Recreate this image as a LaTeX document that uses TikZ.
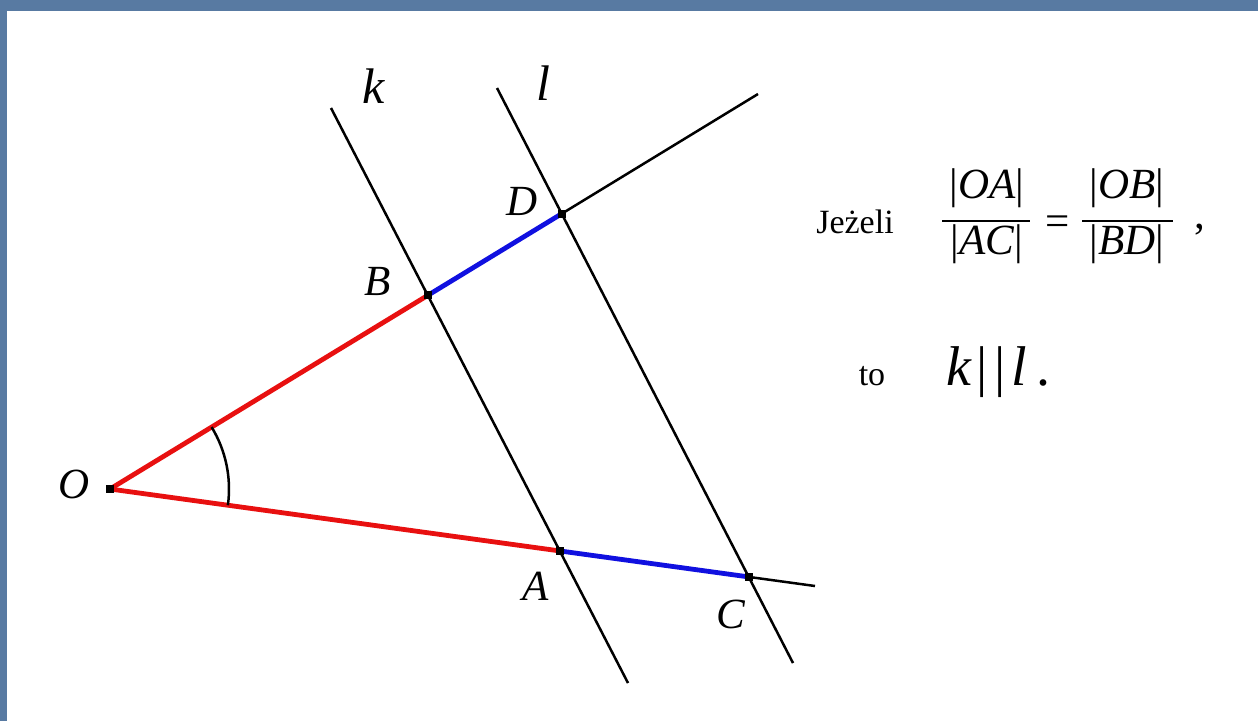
\documentclass[tikz,border=0pt]{standalone}
\usepackage{fontspec}
\setmainfont{Liberation Serif}
\usetikzlibrary{angles}
\definecolor{slidebg}{RGB}{88,122,162}
\definecolor{segred}{RGB}{232,16,16}
\definecolor{segblue}{RGB}{16,16,224}
\begin{document}
\begin{tikzpicture}[x=1pt,y=-1pt,
  blackline/.style={line width=2.5pt, black},
  seg/.style={line width=4.8pt},
  dot/.style={rectangle, fill=black, inner sep=0pt, minimum size=8pt},
  lbl/.style={font=\fontsize{43}{45}\selectfont\itshape, inner sep=0pt},
  linelbl/.style={font=\fontsize{50}{52}\selectfont\itshape, inner sep=0pt},
  txt/.style={font=\fontsize{34}{36}\selectfont, inner sep=0pt},
  frac/.style={font=\fontsize{43}{45}\selectfont, inner sep=0pt}]
\useasboundingbox (0,0) rectangle (1258,721);
\fill[slidebg] (0,0) rectangle (1258,721);
\fill[white] (7,11) rectangle (1258,721);
% lines
\coordinate (kt) at (331,108);
\coordinate (kb) at (628,683);
\coordinate (lt) at (497,88);
\coordinate (lb) at (793,663);
\coordinate (O0) at (110,489);
\coordinate (ue) at (758,94);
\coordinate (le) at (815,586);
\node[dot] (O) at (O0) {};
\node[dot] (B) at (intersection of kt--kb and O0--ue) {};
\node[dot] (D) at (intersection of lt--lb and O0--ue) {};
\node[dot] (A) at (intersection of kt--kb and O0--le) {};
\node[dot] (C) at (intersection of lt--lb and O0--le) {};
\draw[blackline] (kt) -- (kb);
\draw[blackline] (lt) -- (lb);
\draw[blackline] (D.center) -- (ue);
\draw[blackline] (C.center) -- (le);
\draw[seg, segred] (O.center) -- (B.center);
\draw[seg, segred] (O.center) -- (A.center);
\draw[seg, segblue] (B.center) -- (D.center);
\draw[seg, segblue] (A.center) -- (C.center);
\node[dot] at (O0) {};
\node[dot] at (B.center) {};
\node[dot] at (D.center) {};
\node[dot] at (A.center) {};
\node[dot] at (C.center) {};
\pic[draw, line width=2.5pt, angle radius=119pt] {angle = A--O--B};
% labels
\node[linelbl] (klab) at (374,86) {k};
\node[linelbl] (llab) at (543,83) {l};
\node[lbl] (Dlab) at (522,201) {D};
\node[lbl] (Blab) at (378,281) {B};
\node[lbl] (Olab) at (74,484) {O};
\node[lbl] (Alab) at (536,586) {A};
\node[lbl] (Clab) at (731,614) {C};
% formula
\node[txt] (jez) at (855,222) {Jeżeli};
\node[frac] (n1) at (987,188) {|\textit{OA}|};
\node[frac] (d1) at (987,244) {|\textit{AC}|};
\draw[line width=1.8pt] (942,221) -- (1030,221);
\node[frac] (eq) at (1058,226) {=};
\node[frac] (n2) at (1127,188) {|\textit{OB}|};
\node[frac] (d2) at (1127,244) {|\textit{BD}|};
\draw[line width=1.8pt] (1082,221) -- (1173,221);
\node[frac, anchor=base] (comma) at (1200,228) {,};
\node[txt, anchor=base] (to) at (872,385) {to};
\node[font=\fontsize{56}{58}\selectfont, inner sep=0pt, anchor=base west] (kl) at (946,385) {\textit{k}\hspace{5pt}|\hspace{6pt}|\hspace{6pt}\textit{l}\hspace{10pt}.};
\end{tikzpicture}
\end{document}
